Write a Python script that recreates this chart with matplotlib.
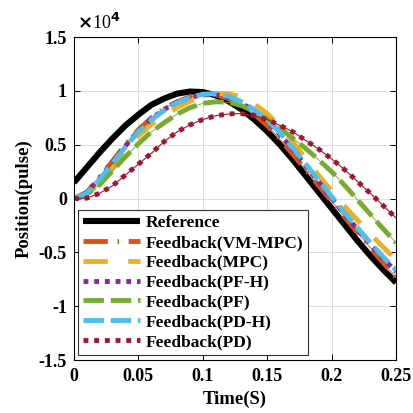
import matplotlib
matplotlib.use("Agg")
import matplotlib.pyplot as plt
from matplotlib.ticker import FuncFormatter
import numpy as np

# time samples (s)
t = [0.00, 0.01, 0.02, 0.03, 0.04, 0.05, 0.06, 0.07, 0.08, 0.09,
     0.10, 0.11, 0.12, 0.13, 0.14, 0.15, 0.16, 0.17, 0.18, 0.19,
     0.20, 0.21, 0.22, 0.23, 0.24, 0.25]

# positions, in units of 1e4 pulse
reference = [0.15, 0.29, 0.43, 0.56, 0.68, 0.78, 0.87, 0.93, 0.975, 0.995,
             0.99, 0.96, 0.905, 0.83, 0.735, 0.625, 0.50, 0.36, 0.21, 0.06,
             -0.09, -0.24, -0.39, -0.53, -0.66, -0.78]
vm_mpc = [0.0, 0.06, 0.20, 0.35, 0.50, 0.64, 0.75, 0.84, 0.90, 0.945,
          0.97, 0.965, 0.93, 0.87, 0.785, 0.68, 0.55, 0.41, 0.265, 0.12,
          -0.025, -0.17, -0.315, -0.455, -0.595, -0.73]
mpc = [0.0, 0.04, 0.14, 0.28, 0.43, 0.58, 0.69, 0.77, 0.845, 0.905,
       0.95, 0.975, 0.975, 0.945, 0.88, 0.79, 0.67, 0.53, 0.37, 0.215,
       0.07, -0.07, -0.20, -0.33, -0.45, -0.57]
pf_h = [0.0, 0.055, 0.19, 0.34, 0.49, 0.63, 0.74, 0.83, 0.895, 0.94,
        0.965, 0.965, 0.94, 0.89, 0.81, 0.715, 0.595, 0.455, 0.305, 0.155,
        0.005, -0.145, -0.285, -0.425, -0.555, -0.68]
pf = [0.0, 0.04, 0.13, 0.26, 0.39, 0.51, 0.62, 0.705, 0.785, 0.845,
      0.885, 0.90, 0.895, 0.865, 0.81, 0.74, 0.655, 0.56, 0.465, 0.36,
      0.25, 0.125, -0.01, -0.145, -0.28, -0.41]
pd_h = [0.0, 0.05, 0.18, 0.33, 0.48, 0.62, 0.73, 0.82, 0.89, 0.94,
        0.97, 0.975, 0.95, 0.90, 0.825, 0.73, 0.61, 0.47, 0.32, 0.17,
        0.02, -0.13, -0.27, -0.41, -0.54, -0.665]
pd = [0.0, 0.005, 0.05, 0.12, 0.22, 0.32, 0.42, 0.53, 0.62, 0.685,
      0.735, 0.77, 0.787, 0.79, 0.77, 0.735, 0.68, 0.62, 0.54, 0.46,
      0.37, 0.27, 0.16, 0.05, -0.065, -0.18]

labels = ["Reference", "Feedback(VM-MPC)", "Feedback(MPC)", "Feedback(PF-H)",
          "Feedback(PF)", "Feedback(PD-H)", "Feedback(PD)"]

x_ticks = [0, 0.05, 0.1, 0.15, 0.2, 0.25]
y_ticks = [-1.5, -1, -0.5, 0, 0.5, 1, 1.5]

plt.rcParams['font.family'] = ['Liberation Serif', 'DejaVu Serif']
plt.rcParams['font.weight'] = 'bold'

fig = plt.figure(figsize=(4.13, 4.13), dpi=100)
ax = fig.add_axes([0.179, 0.128, 0.780, 0.782])

tt = np.array(t)
scale = 1e4

ax.plot(tt, np.array(reference) * scale, color='black', lw=4.4,
        solid_capstyle='butt', label=labels[0])

ax.plot(tt, np.array(vm_mpc) * scale, color='#D95319', lw=0.6)
ax.plot(tt, np.array(vm_mpc) * scale, color='#D95319', lw=3.5,
        dashes=(5.0, 2.0, 0.3, 2.0), dash_capstyle='butt', label=labels[1])

ax.plot(tt, np.array(mpc) * scale, color='#EDB120', lw=3.5,
        dashes=(5.0, 4.2), dash_capstyle='butt', label=labels[2])

ax.plot(tt, np.array(pf_h) * scale, color='#7E2F8E', lw=3.5,
        dashes=(1, 1.2), dash_capstyle='butt', label=labels[3])

ax.plot(tt, np.array(pf) * scale, color='#77AC30', lw=0.6)
ax.plot(tt, np.array(pf) * scale, color='#77AC30', lw=3.5,
        dashes=(4.2, 1.4), dash_capstyle='butt', label=labels[4])

ax.plot(tt, np.array(pd_h) * scale, color='#4DBEEE', lw=3.5,
        dashes=(4.2, 1.4), dash_capstyle='butt', label=labels[5])

ax.plot(tt, np.array(pd) * scale, color='#A2142F', lw=0.8)
ax.plot(tt, np.array(pd) * scale, color='#A2142F', lw=3.5,
        dashes=(1, 1.2), dash_capstyle='butt', label=labels[6])

ax.set_xlim(0, 0.25)
ax.set_ylim(-1.5 * scale, 1.5 * scale)
ax.set_xticks(x_ticks)
ax.set_yticks([v * scale for v in y_ticks])
ax.xaxis.set_major_formatter(FuncFormatter(lambda v, p: f"{v:g}"))
ax.yaxis.set_major_formatter(FuncFormatter(lambda v, p: f"{v / scale:g}"))

ax.grid(True, color='#dcdcdc', lw=0.7)
ax.set_axisbelow(True)
ax.tick_params(direction='in', length=4, width=0.7, top=True, right=True,
               labelsize=13)
ax.tick_params(axis='x', pad=6)
ax.tick_params(axis='y', pad=5)
for s in ax.spines.values():
    s.set_linewidth(0.8)

ax.set_xlabel("Time(S)", fontsize=13.5, fontweight='bold', labelpad=4)
ax.set_ylabel("Position(pulse)", fontsize=13.5, fontweight='bold', labelpad=4)

ax.text(0.008, 1.012, r"$\times$10$^{4}$", transform=ax.transAxes,
        fontsize=13, fontweight='normal', ha='left', va='bottom')

leg = ax.legend(loc='lower left', bbox_to_anchor=(0.012, 0.015),
                fontsize=12.5, frameon=True, fancybox=False, framealpha=1,
                edgecolor='#333333', borderpad=0.3, labelspacing=0.21,
                handlelength=3.3, handletextpad=0.3, borderaxespad=0)
leg.get_frame().set_linewidth(0.8)

fig.savefig("out.png", dpi=100)
